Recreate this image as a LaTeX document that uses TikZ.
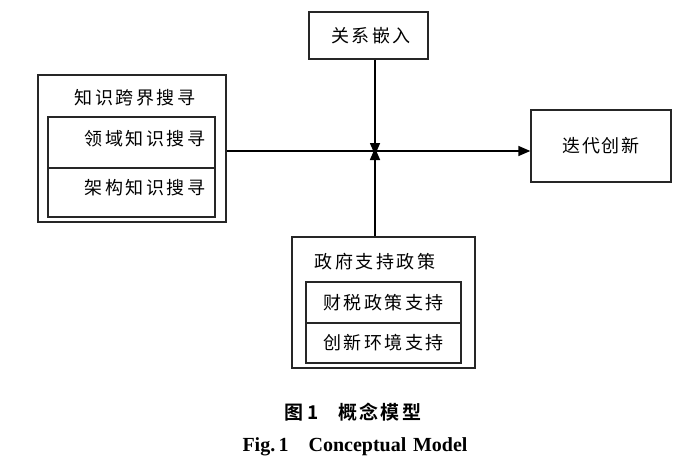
\documentclass[tikz,border=0pt]{standalone}
\usepackage{fontspec}
\setmainfont{Liberation Serif}
\newfontfamily\cjk[LetterSpace=14]{Noto Sans CJK SC}
\newfontfamily\cjktight[LetterSpace=8]{Noto Sans CJK SC}
\newfontfamily\cjkbold[LetterSpace=12]{Noto Sans CJK SC Bold}
\usetikzlibrary{arrows.meta}
\begin{document}
\begin{tikzpicture}[x=1pt,y=-1pt,
  box/.style={draw=black!85,line width=1.4pt,rectangle,inner sep=0pt},
  txt/.style={inner sep=0pt,font=\fontsize{18}{18}\selectfont\cjk},
  arr/.style={line width=1.6pt,-{Triangle[length=12pt,width=10pt]}}]
\useasboundingbox (0,0) rectangle (700,468);
% left group
\node[box,minimum width=188pt,minimum height=147pt] (kbs) at (132,148.5) {};
\node[txt] (kbst) at (135,98) {知识跨界搜寻};
\node[box,minimum width=167pt,minimum height=51pt] (dom) at (131.5,142.5) {};
\node[box,minimum width=167pt,minimum height=49pt] (arc) at (131.5,192.5) {};
\node[txt] (domt) at (145,139) {领域知识搜寻};
\node[txt] (arct) at (145,188) {架构知识搜寻};
% relation
\node[box,minimum width=119pt,minimum height=47pt,txt] (rel) at (368.5,35.5) {\hspace{5pt}关系嵌入};
% iteration
\node[box,minimum width=140pt,minimum height=72pt,font=\fontsize{18}{18}\selectfont\cjktight] (iter) at (601,146) {\raisebox{-4pt}{迭代创新}};
% government
\node[box,minimum width=183pt,minimum height=131pt] (gov) at (383.5,302.5) {};
\node[txt] (govt) at (375,262) {政府支持政策};
\node[box,minimum width=155pt,minimum height=41pt,txt] (fis) at (383.5,302.5) {\raisebox{-1pt}{财税政策支持}};
\node[box,minimum width=155pt,minimum height=40pt,txt] (env) at (383.5,343) {创新环境支持};
% connectors
\coordinate (j) at (375,151);
\draw[line width=1.5pt,-{Triangle[length=12pt,width=10pt]}] (kbs.east |- j) -- (iter.west |- j);
\draw[arr] (rel.south -| j) -- ([yshift=-4pt]j);
\draw[arr] (gov.north -| j) -- ([yshift=3pt]j);
% captions
\node[inner sep=0pt,font=\fontsize{19}{19}\selectfont\cjkbold] (cap1) at (353,412) {图\,1\hspace{20pt}概念模型};
\node[inner sep=0pt,font=\fontsize{20}{20}\selectfont\bfseries] (cap2) at (355,447) {Fig.\,1\hspace{20pt}Conceptual\,\,Model};
\end{tikzpicture}
\end{document}
